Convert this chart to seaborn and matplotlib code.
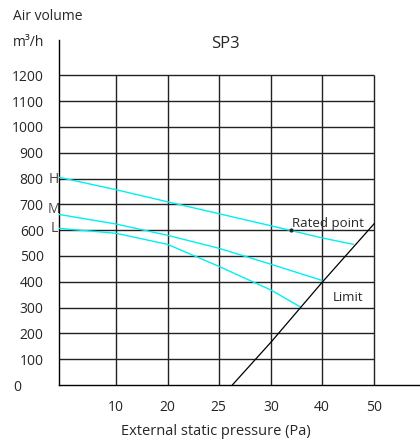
import numpy as np
import pandas as pd
import matplotlib
matplotlib.use('Agg')
import matplotlib.pyplot as plt
import seaborn as sns

# axis ticks (x axis is not linear: roughly equal spacing per labelled tick)
x_tick_pa = [0, 10, 20, 25, 30, 40, 50]
x_tick_pos = [0, 1.1, 2.1, 3.09, 4.1, 5.09, 6.1]
x_tick_labels = ['', '10', '20', '25', '30', '40', '50']
y_ticks = [100, 200, 300, 400, 500, 600, 700, 800, 900, 1000, 1100, 1200]

# fan curves (pressure Pa, air volume m3/h)
h_pa = [0, 10, 20, 25, 30, 40, 46]
h_vol = [805, 757, 710, 664, 617, 570, 545]
m_pa = [0, 10, 20, 25, 30, 40]
m_vol = [661, 624, 580, 530, 468, 405]
l_pa = [0, 10, 20, 25, 30, 35.7]
l_vol = [607, 588, 545, 460, 368, 303]
limit_pa = [26.3, 30, 40, 50]
limit_vol = [0, 166, 398, 626]
rated_pa = 33.9
rated_vol = 600


def to_pos(pa):
    return np.interp(pa, x_tick_pa, x_tick_pos)


curves = pd.concat([
    pd.DataFrame({'pos': to_pos(h_pa), 'vol': h_vol, 'speed': 'H'}),
    pd.DataFrame({'pos': to_pos(m_pa), 'vol': m_vol, 'speed': 'M'}),
    pd.DataFrame({'pos': to_pos(l_pa), 'vol': l_vol, 'speed': 'L'}),
])
limit = pd.DataFrame({'pos': to_pos(limit_pa), 'vol': limit_vol})

sns.set_style('white')
plt.rcParams['font.family'] = ['Open Sans', 'DejaVu Sans']

fig = plt.figure(figsize=(4.2, 4.44), dpi=100)
ax = fig.add_axes([59 / 420, 1 - 385 / 444, 361 / 420, 345 / 444])

# grid limited to the chart area
xmax = x_tick_pos[-1]
ax.hlines(y_ticks, 0, xmax, color='#222222', lw=1, zorder=1)
ax.vlines(x_tick_pos[1:], 0, y_ticks[-1], color='#222222', lw=1, zorder=1)

sns.lineplot(data=curves, x='pos', y='vol', units='speed', estimator=None,
             color='#00f0f0', lw=1, ax=ax, zorder=3)
sns.lineplot(data=limit, x='pos', y='vol', color='black', lw=0.9, ax=ax, zorder=3)
ax.plot(to_pos(rated_pa), rated_vol, 'o', color='#222222', ms=2, zorder=4)

ax.set_xlim(0, 361 / 51.7)
ax.set_ylim(0, 1337)
ax.set_xticks(x_tick_pos[1:])
ax.set_xticklabels(x_tick_labels[1:], fontsize=10)
ax.set_yticks(y_ticks)
ax.set_yticklabels([str(v) for v in y_ticks], fontsize=10)
ax.tick_params(axis='x', direction='out', length=9, width=1, pad=2, color='#222222')
ax.tick_params(axis='y', direction='out', length=9, width=1, pad=2, color='#222222')
ax.set_xlabel('')
ax.set_ylabel('')
for s in ['top', 'right']:
    ax.spines[s].set_visible(False)
for s in ['left', 'bottom']:
    ax.spines[s].set_color('black')
    ax.spines[s].set_linewidth(1)

ax.text(-0.8, -10, '0', fontsize=10, ha='center', va='center')

# curve labels
ax.text(-0.1, h_vol[0] - 10, 'H', fontsize=10, color='#444444', ha='center', va='center')
ax.text(-0.1, m_vol[0] + 20, 'M', fontsize=10, color='#444444', ha='center', va='center')
ax.text(-0.1, l_vol[0] - 2, 'L', fontsize=10, color='#444444', ha='center', va='center')
ax.text(to_pos(rated_pa) + 0.02, rated_vol + 24, 'Rated point', fontsize=9.5,
        ha='left', va='center')
ax.text(5.3, 340, 'Limit', fontsize=9.5, ha='left', va='center')

fig.text(216 / 420, 1 - 431 / 444, 'External static pressure (Pa)', fontsize=10.5,
         ha='center', va='center')
fig.text(13 / 420, 1 - 17 / 444, 'Air volume', fontsize=10, ha='left', va='center')
fig.text(13 / 420, 1 - 42 / 444, 'm³/h', fontsize=10, ha='left', va='center')
fig.text(225 / 420, 1 - 44 / 444, 'SP3', fontsize=12, ha='center', va='center')

fig.savefig('out.png', dpi=100)
